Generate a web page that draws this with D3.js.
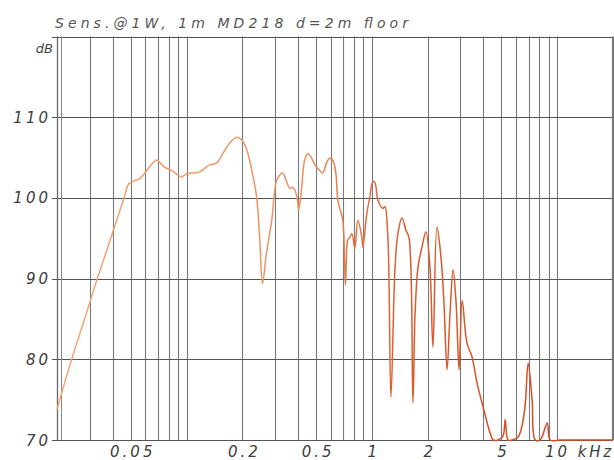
<!DOCTYPE html>
<html>
<head>
<meta charset="utf-8">
<script src="https://cdn.jsdelivr.net/npm/d3@7/dist/d3.min.js"></script>
<style>
  html, body { margin: 0; padding: 0; background: #fff; }
  svg { display: block; }
  text { font-family: "DejaVu Sans", "Liberation Sans", sans-serif; font-style: italic; }
</style>
</head>
<body>
<svg id="chart" width="614" height="460"></svg>
<script>
// Frequency response of the MD218, 1 W / 1 m, measured at 2 m over floor
const freqHz = [20, 24, 28, 33, 39, 46, 49, 56, 61, 65, 69, 76, 83, 94, 100, 117, 133, 145, 157, 171, 186, 198, 211, 225, 239, 248, 257, 270, 288, 306, 318, 330, 347, 360, 374, 393, 403, 418, 434, 451, 474, 492, 523, 543, 571, 593, 615, 639, 655, 671, 697, 720, 742, 760, 780, 809, 840, 883, 894, 940, 975, 1012, 1038, 1078, 1147, 1176, 1220, 1267, 1332, 1382, 1453, 1527, 1585, 1665, 1707, 1773, 1863, 1957, 2057, 2136, 2245, 2359, 2449, 2544, 2641, 2742, 2847, 2956, 3070, 3260, 3470, 3690, 3980, 4340, 4510, 4790, 5100, 5240, 5430, 5710, 6130, 6370, 6700, 6970, 7320, 7610, 8100, 8830, 9170, 10400, 13300, 20000];
const splDb = [73.8, 80, 84.8, 90, 95, 100, 101.8, 102.4, 103.4, 104.2, 104.7, 103.8, 103.4, 102.6, 103, 103.2, 104.1, 104.3, 105.5, 106.8, 107.5, 107.2, 106, 103.4, 100.1, 95.1, 89.4, 93.2, 97.2, 102.2, 102.8, 103.1, 102, 101.2, 101.3, 100.3, 98.5, 101.3, 104.7, 105.5, 104.9, 104.1, 103.4, 103.1, 104.4, 104.9, 104.7, 103.1, 99.7, 98.7, 97.2, 89.2, 94.8, 95.1, 95.6, 93.7, 97.2, 95.1, 93.9, 98.1, 100.1, 102, 101.9, 99.7, 98.7, 98.9, 95.1, 75.3, 91.1, 95.6, 97.5, 96, 95.1, 74.6, 85.2, 91.4, 93.9, 95.8, 91.4, 81.5, 96.4, 92.7, 87, 78.7, 85.7, 91.1, 87, 78.7, 87.3, 82, 80.3, 77.1, 74.1, 70.9, 69, 67, 70.5, 72.5, 69, 68.5, 70.3, 71.2, 74.1, 79.5, 75, 69.5, 68, 72.1, 69, 67, 65, 64];

// Axis labels
const yTickValues = [70, 80, 90, 100, 110];
const xLabelValues = [50, 200, 500, 1000, 2000, 5000];
const xLabelTexts = ["0.05", "0.2", "0.5", "1", "2", "5"];
const xLastLabel = { value: 10000, text: "10 kHz" };
const titleText = "Sens.@1W, 1m MD218  d=2m  floor";
const unitText = "dB";

const svg = d3.select("#chart");
const plotLeft = 57, plotRight = 613, plotTop = 36.5, plotBottom = 440;

const x = d3.scaleLog().domain([20, 20000]).range([plotLeft, plotRight]);
const y = d3.scaleLinear().domain([70, 120]).range([plotBottom, plotTop]).clamp(true);

// vertical grid (log decades)
svg.append("g")
  .selectAll("line")
  .data(x.ticks())
  .join("line")
  .attr("x1", d => Math.round(x(d)) + 0.5)
  .attr("x2", d => Math.round(x(d)) + 0.5)
  .attr("y1", plotTop).attr("y2", plotBottom)
  .attr("stroke", "#7a7a7a")
  .attr("stroke-width", 1.1);

// horizontal grid
svg.append("g")
  .selectAll("line")
  .data(yTickValues.concat([120]))
  .join("line")
  .attr("x1", plotLeft - 5).attr("x2", plotRight)
  .attr("y1", d => Math.round(y(d)) + 0.5)
  .attr("y2", d => Math.round(y(d)) + 0.5)
  .attr("stroke", "#555")
  .attr("stroke-width", 1.1);

// frame with doubled left edge
svg.append("line")
  .attr("x1", plotLeft + 0.5).attr("x2", plotLeft + 0.5)
  .attr("y1", plotTop).attr("y2", plotBottom + 0.5)
  .attr("stroke", "#666").attr("stroke-width", 1.2);
svg.append("line")
  .attr("x1", plotLeft + 4.5).attr("x2", plotLeft + 4.5)
  .attr("y1", plotTop).attr("y2", plotBottom)
  .attr("stroke", "#888").attr("stroke-width", 1);
svg.append("line")
  .attr("x1", plotRight - 0.5).attr("x2", plotRight - 0.5)
  .attr("y1", plotTop).attr("y2", plotBottom)
  .attr("stroke", "#777").attr("stroke-width", 1.2);

// y labels
svg.append("g")
  .selectAll("text")
  .data(yTickValues)
  .join("text")
  .attr("x", plotLeft - 6)
  .attr("y", d => y(d) + 5.5)
  .attr("text-anchor", "end")
  .attr("font-size", 15)
  .attr("letter-spacing", 3)
  .attr("fill", "#3c3c3c")
  .text(d => d);

svg.append("text")
  .attr("x", plotLeft - 4)
  .attr("y", 53)
  .attr("text-anchor", "end")
  .attr("font-size", 13)
  .attr("fill", "#444")
  .text(unitText);

// x labels
svg.append("g")
  .selectAll("text")
  .data(xLabelValues)
  .join("text")
  .attr("x", d => x(d) + 2)
  .attr("y", 457)
  .attr("text-anchor", "middle")
  .attr("font-size", 15)
  .attr("letter-spacing", 3)
  .attr("fill", "#3c3c3c")
  .text((d, i) => xLabelTexts[i]);

svg.append("text")
  .attr("x", x(xLastLabel.value) - 12)
  .attr("y", 457)
  .attr("font-size", 15)
  .attr("fill", "#3c3c3c")
  .attr("textLength", 66)
  .attr("lengthAdjust", "spacing")
  .text(xLastLabel.text);

// title
svg.append("text")
  .attr("x", 55)
  .attr("y", 28)
  .attr("font-size", 14)
  .attr("fill", "#555")
  .attr("textLength", 353)
  .attr("lengthAdjust", "spacing")
  .text(titleText);

// response curve, shading from orange to red-orange toward the top end
const grad = svg.append("defs").append("linearGradient")
  .attr("id", "curveShade")
  .attr("gradientUnits", "userSpaceOnUse")
  .attr("x1", x(20)).attr("x2", x(20000))
  .attr("y1", 0).attr("y2", 0);
grad.append("stop").attr("offset", "0%").attr("stop-color", "#f2a577");
grad.append("stop").attr("offset", "45%").attr("stop-color", "#ec8f5c");
grad.append("stop").attr("offset", "62%").attr("stop-color", "#dc5d2e");
grad.append("stop").attr("offset", "100%").attr("stop-color", "#cf441d");

const line = d3.line()
  .x((d, i) => x(freqHz[i]))
  .y(d => y(d))
  .curve(d3.curveCatmullRom.alpha(0.5));

svg.append("path")
  .datum(splDb)
  .attr("d", line)
  .attr("fill", "none")
  .attr("stroke", "url(#curveShade)")
  .attr("stroke-width", 1.5)
  .attr("stroke-linejoin", "round");
</script>
</body>
</html>
